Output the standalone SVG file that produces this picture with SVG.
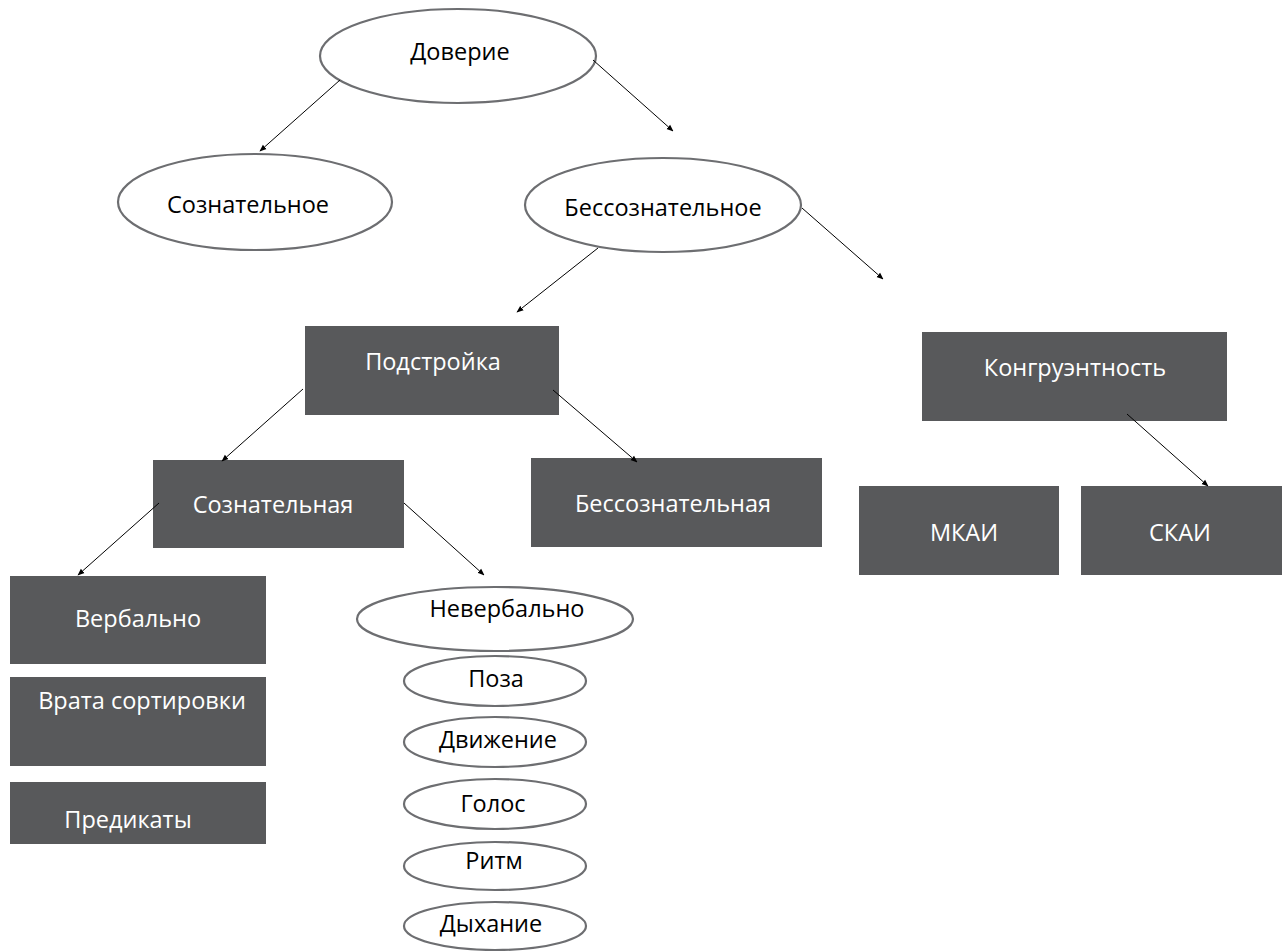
<svg xmlns="http://www.w3.org/2000/svg" width="1282" height="951" viewBox="0 0 1282 951">
<defs>
<marker id="ah" viewBox="0 0 10 10" refX="9" refY="5" markerWidth="7" markerHeight="7" orient="auto" markerUnits="userSpaceOnUse">
<path d="M0,1 L10,5 L0,9 Z" fill="#000"/>
</marker>
<style>
.ell{fill:#fff;stroke:#6d6e71;stroke-width:2.2}
.box{fill:#58595b}
.tb{font-family:"Open Sans","Noto Sans",sans-serif;font-size:23.5px;fill:#000;text-anchor:middle}
.tw{font-family:"Open Sans","Noto Sans",sans-serif;font-size:23.5px;fill:#fff;text-anchor:middle}
.con line{stroke:#000;stroke-width:1;marker-end:url(#ah)}
</style>
</defs>
<rect width="1282" height="951" fill="#fff"/>
<g id="n-doverie"><ellipse class="ell" cx="458" cy="56" rx="138" ry="47"/><text class="tb" x="460" y="60">Доверие</text></g>
<g id="n-soznatelnoe"><ellipse class="ell" cx="255" cy="202" rx="137" ry="48"/><text class="tb" x="248" y="213">Сознательное</text></g>
<g id="n-bessoznatelnoe"><ellipse class="ell" cx="663" cy="205" rx="138" ry="47"/><text class="tb" x="663" y="216">Бессознательное</text></g>
<g id="n-podstroyka"><rect class="box" x="305" y="326" width="254" height="89"/><text class="tw" x="433" y="370">Подстройка</text></g>
<g id="n-kongruentnost"><rect class="box" x="922" y="332" width="305" height="89"/><text class="tw" x="1075" y="376">Конгруэнтность</text></g>
<g id="n-soznatelnaya"><rect class="box" x="153" y="460" width="251" height="88"/><text class="tw" x="273" y="513">Сознательная</text></g>
<g id="n-bessoznatelnaya"><rect class="box" x="531" y="458" width="291" height="89"/><text class="tw" x="673" y="512">Бессознательная</text></g>
<g id="n-mkai"><rect class="box" x="859" y="486" width="200" height="89"/><text class="tw" x="964" y="541">МКАИ</text></g>
<g id="n-skai"><rect class="box" x="1081" y="486" width="201" height="89"/><text class="tw" x="1180" y="541">СКАИ</text></g>
<g id="n-verbalno"><rect class="box" x="10" y="576" width="256" height="88"/><text class="tw" x="138" y="627">Вербально</text></g>
<g id="n-vrata"><rect class="box" x="10" y="677" width="256" height="89"/><text class="tw" x="142" y="709">Врата сортировки</text></g>
<g id="n-predikaty"><rect class="box" x="10" y="782" width="256" height="62"/><text class="tw" x="128" y="828">Предикаты</text></g>
<g id="n-neverbalno"><ellipse class="ell" cx="495" cy="619" rx="138" ry="32"/><text class="tb" x="507" y="617">Невербально</text></g>
<g id="n-poza"><ellipse class="ell" cx="495" cy="681" rx="91" ry="25"/><text class="tb" x="496" y="687">Поза</text></g>
<g id="n-dvizhenie"><ellipse class="ell" cx="495" cy="742" rx="91" ry="25"/><text class="tb" x="498" y="748">Движение</text></g>
<g id="n-golos"><ellipse class="ell" cx="495" cy="804" rx="91" ry="25"/><text class="tb" x="493" y="812">Голос</text></g>
<g id="n-ritm"><ellipse class="ell" cx="495" cy="866" rx="91" ry="24"/><text class="tb" x="494" y="869">Ритм</text></g>
<g id="n-dyhanie"><ellipse class="ell" cx="495" cy="926" rx="91" ry="24"/><text class="tb" x="491" y="932">Дыхание</text></g>
<g id="connectors" class="con">
<line x1="340" y1="80" x2="260" y2="151"/>
<line x1="593" y1="60" x2="673" y2="131"/>
<line x1="598" y1="248" x2="517" y2="312"/>
<line x1="802" y1="208" x2="883" y2="279"/>
<line x1="303" y1="389" x2="222" y2="461"/>
<line x1="553" y1="390" x2="637" y2="462"/>
<line x1="159" y1="503" x2="78" y2="575"/>
<line x1="404" y1="503" x2="484" y2="575"/>
<line x1="1127" y1="414" x2="1208" y2="486"/>
</g>
</svg>
